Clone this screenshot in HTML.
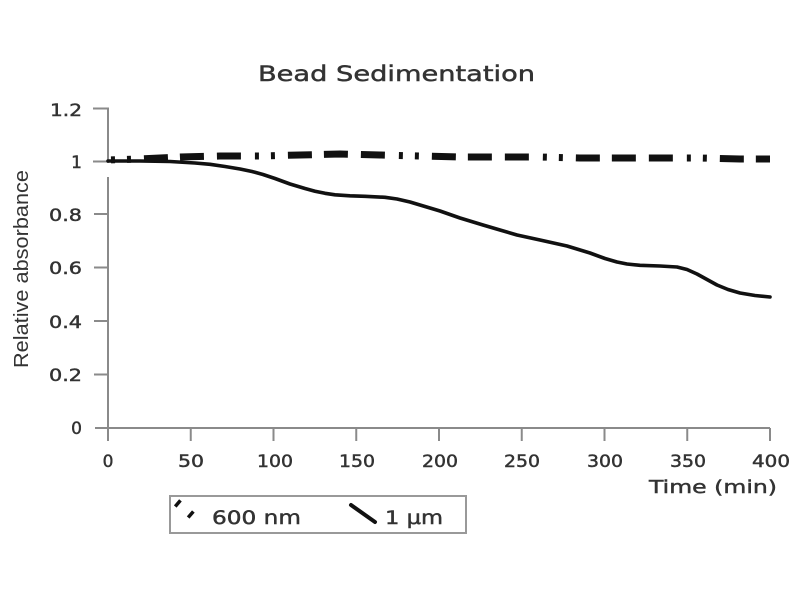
<!DOCTYPE html>
<html><head><meta charset="utf-8"><style>
html,body{margin:0;padding:0;background:#fff;}
svg{display:block;}
text{font-family:"DejaVu Sans","Liberation Sans",sans-serif;fill:#333;}
.t{stroke:#333;stroke-width:0.45;}
</style></head><body>
<svg width="800" height="600" viewBox="0 0 800 600" xmlns="http://www.w3.org/2000/svg">
<rect width="800" height="600" fill="#fff"/>
<!-- title -->
<text class="t" x="258" y="81" font-size="21" textLength="277" lengthAdjust="spacingAndGlyphs">Bead Sedimentation</text>
<!-- axes -->
<g stroke="#8a8a8a" stroke-width="2" fill="none">
  <line x1="108" y1="107.5" x2="108" y2="163"/>
  <line x1="108" y1="177" x2="108" y2="441"/>
  <line x1="95" y1="428" x2="770" y2="428"/>
  <line x1="93" y1="108.5" x2="108" y2="108.5"/>
  <line x1="93" y1="161.5" x2="108" y2="161.5"/>
  <line x1="94" y1="214" x2="108" y2="214"/>
  <line x1="94" y1="267.5" x2="108" y2="267.5"/>
  <line x1="94" y1="321" x2="108" y2="321"/>
  <line x1="94" y1="374.5" x2="108" y2="374.5"/>
  <line x1="190.75" y1="428" x2="190.75" y2="441"/>
  <line x1="273.5" y1="428" x2="273.5" y2="441"/>
  <line x1="356.25" y1="428" x2="356.25" y2="441"/>
  <line x1="439" y1="428" x2="439" y2="441"/>
  <line x1="521.75" y1="428" x2="521.75" y2="441"/>
  <line x1="604.5" y1="428" x2="604.5" y2="441"/>
  <line x1="687.25" y1="428" x2="687.25" y2="441"/>
  <line x1="770" y1="428" x2="770" y2="441"/>
</g>
<!-- y tick labels -->
<g font-size="17" text-anchor="end" class="t">
  <text x="82" y="116" textLength="32" lengthAdjust="spacingAndGlyphs">1.2</text>
  <text x="82" y="168">1</text>
  <text x="82" y="221" textLength="33" lengthAdjust="spacingAndGlyphs">0.8</text>
  <text x="82" y="274" textLength="33" lengthAdjust="spacingAndGlyphs">0.6</text>
  <text x="82" y="328" textLength="33" lengthAdjust="spacingAndGlyphs">0.4</text>
  <text x="82" y="381" textLength="33" lengthAdjust="spacingAndGlyphs">0.2</text>
  <text x="82" y="434">0</text>
</g>
<!-- x tick labels -->
<g font-size="17" text-anchor="middle" class="t">
  <text x="108" y="467">0</text>
  <text x="191" y="467" textLength="26" lengthAdjust="spacingAndGlyphs">50</text>
  <text x="275" y="467" textLength="36" lengthAdjust="spacingAndGlyphs">100</text>
  <text x="357" y="467" textLength="36" lengthAdjust="spacingAndGlyphs">150</text>
  <text x="440" y="467" textLength="36" lengthAdjust="spacingAndGlyphs">200</text>
  <text x="522" y="467" textLength="36" lengthAdjust="spacingAndGlyphs">250</text>
  <text x="605" y="467" textLength="36" lengthAdjust="spacingAndGlyphs">300</text>
  <text x="688" y="467" textLength="36" lengthAdjust="spacingAndGlyphs">350</text>
  <text x="771" y="467" textLength="38" lengthAdjust="spacingAndGlyphs">400</text>
</g>
<text class="t" x="649" y="493" font-size="18" textLength="128" lengthAdjust="spacingAndGlyphs">Time (min)</text>
<!-- y axis title -->
<text transform="translate(28,368) rotate(-90)" font-size="20" textLength="198" lengthAdjust="spacingAndGlyphs" style="font-family:'Liberation Sans',sans-serif;fill:#333">Relative absorbance</text>
<!-- 1 um solid -->
<polyline fill="none" stroke="#111" stroke-width="3.6" stroke-linejoin="round" stroke-linecap="round"
 points="108,161 140,161 170,161.5 195,163 210,164.3 225,166.5 240,169 252,171.5 263,174.5 275,178.5 290,184 305,188.5 315,191.2 325,193.3 335,194.8 350,195.8 365,196.3 385,197.3 397,199 410,202 425,206.5 440,211 460,218 483,225 500,230 517,235 540,240 567,246 590,253 605,258.5 617,262 627,264 640,265.3 660,266 677,267 687,269.5 697,274 707,279.5 717,285 728,289.5 740,293 755,295.5 770,297"/>
<!-- 600 nm dashed -->
<polyline fill="none" stroke="#111" stroke-width="7" stroke-linejoin="miter"
 stroke-dasharray="24 12 24 13 24 14 4 12 4 13" stroke-dashoffset="108"
 points="108,160 140,159 180,157 220,156 260,156 300,155 340,154 380,155 420,156 460,157 500,157 540,157 580,158 620,158 660,158 700,158 740,159 770,159"/>
<!-- legend -->
<rect x="170" y="496" width="296" height="37" fill="#fff" stroke="#999" stroke-width="2"/>
<line x1="175" y1="501" x2="196" y2="519" stroke="#111" stroke-width="8" stroke-dasharray="3.5 13.5" stroke-dashoffset="-2"/>
<text class="t" x="212" y="524" font-size="19" textLength="89" lengthAdjust="spacingAndGlyphs">600 nm</text>
<line x1="351" y1="505" x2="375" y2="522" stroke="#111" stroke-width="4" stroke-linecap="round"/>
<text class="t" x="385" y="524" font-size="19" textLength="58" lengthAdjust="spacingAndGlyphs">1 µm</text>
</svg>
</body></html>
